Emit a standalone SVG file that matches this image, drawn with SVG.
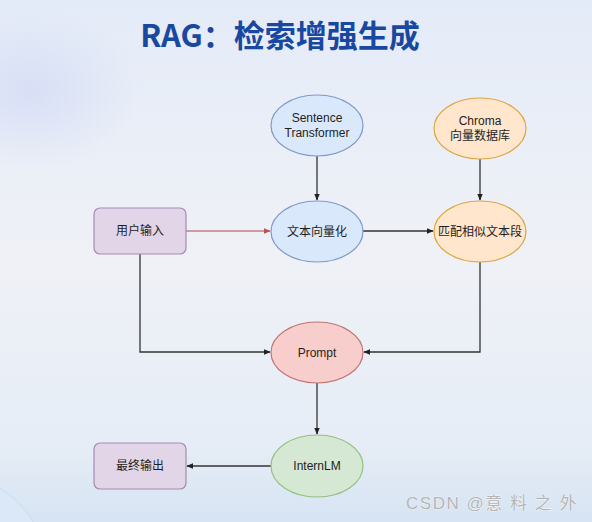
<svg xmlns="http://www.w3.org/2000/svg" width="592" height="522" viewBox="0 0 592 522">
<defs>
<linearGradient id="bg" x1="0" y1="0" x2="0" y2="1">
<stop offset="0" stop-color="#e4ebf8"/>
<stop offset="0.5" stop-color="#eff1f6"/>
<stop offset="0.85" stop-color="#e6edf6"/>
<stop offset="1" stop-color="#d6e4f3"/>
</linearGradient>
<radialGradient id="blob" cx="0.5" cy="0.5" r="0.5">
<stop offset="0" stop-color="#cdd6f5" stop-opacity="0.6"/>
<stop offset="1" stop-color="#cdd6f5" stop-opacity="0"/>
</radialGradient>
<marker id="ah" viewBox="0 0 10 10" refX="9" refY="5" markerWidth="7" markerHeight="7" markerUnits="userSpaceOnUse" orient="auto">
<path d="M0,1 L10,5 L0,9 Z" fill="#222"/>
</marker>
<marker id="ahr" viewBox="0 0 10 10" refX="9" refY="5" markerWidth="7" markerHeight="7" markerUnits="userSpaceOnUse" orient="auto">
<path d="M0,1 L10,5 L0,9 Z" fill="#b85450"/>
</marker>
</defs>
<style>
.t{font-family:"Liberation Sans","Noto Sans CJK SC",sans-serif;font-size:12px;fill:#1e1e1e;text-anchor:middle;dominant-baseline:central}
.blue{fill:#dae8fc;stroke:#7d9bc8;stroke-width:1.2}
.orange{fill:#ffe6cc;stroke:#dca640;stroke-width:1.2}
.red{fill:#f8cecc;stroke:#c07572;stroke-width:1.2}
.green{fill:#d5e8d4;stroke:#96c080;stroke-width:1.2}
.purple{fill:#e1d5e7;stroke:#a58bb3;stroke-width:1.2}
.c{fill:none;stroke:#333;stroke-width:1.3}
</style>
<rect width="592" height="522" fill="url(#bg)"/>
<ellipse cx="30" cy="90" rx="110" ry="80" fill="url(#blob)"/>
<circle cx="-60" cy="580" r="110" fill="#dbe8f7" stroke="#c4dcf2" stroke-width="1"/>
<text x="280" y="33" font-family="'Noto Sans CJK SC','Liberation Sans',sans-serif" font-size="31" font-weight="bold" fill="#1848a0" text-anchor="middle" dominant-baseline="central">RAG：检索增强生成</text>
<g id="connectors">
<line class="c" x1="317" y1="156" x2="317" y2="200" marker-end="url(#ah)"/>
<line class="c" x1="480" y1="159" x2="480" y2="200" marker-end="url(#ah)"/>
<line x1="186" y1="231" x2="270" y2="231" stroke="#c08080" stroke-width="1.3" fill="none" marker-end="url(#ahr)"/>
<line class="c" x1="363" y1="231" x2="433" y2="231" marker-end="url(#ah)"/>
<polyline class="c" points="140,254 140,352 270,352" marker-end="url(#ah)"/>
<polyline class="c" points="480,262 480,352 364,352" marker-end="url(#ah)"/>
<line class="c" x1="317" y1="383" x2="317" y2="434" marker-end="url(#ah)"/>
<line class="c" x1="271" y1="466" x2="187" y2="466" marker-end="url(#ah)"/>
</g>
<g id="sentence-transformer">
<ellipse class="blue" cx="317" cy="125.5" rx="46" ry="30.5"/>
<text class="t" x="317" y="118">Sentence</text>
<text class="t" x="317" y="133">Transformer</text>
</g>
<g id="chroma">
<ellipse class="orange" cx="480" cy="128.5" rx="46" ry="30.5"/>
<text class="t" x="480" y="121">Chroma</text>
<text class="t" x="480" y="136">向量数据库</text>
</g>
<g id="user-input">
<rect class="purple" x="94" y="208" width="92" height="46" rx="6"/>
<text class="t" x="140" y="231">用户输入</text>
</g>
<g id="vectorize">
<ellipse class="blue" cx="317" cy="231.5" rx="46" ry="30.5"/>
<text class="t" x="317" y="231.5">文本向量化</text>
</g>
<g id="match">
<ellipse class="orange" cx="480" cy="231.5" rx="46" ry="30.5"/>
<text class="t" x="480" y="231.5">匹配相似文本段</text>
</g>
<g id="prompt">
<ellipse class="red" cx="317" cy="352.5" rx="46" ry="30.5"/>
<text class="t" x="317" y="352.5">Prompt</text>
</g>
<g id="internlm">
<ellipse class="green" cx="317" cy="466" rx="46" ry="31"/>
<text class="t" x="317" y="466">InternLM</text>
</g>
<g id="final-output">
<rect class="purple" x="94" y="443" width="92" height="46" rx="6"/>
<text class="t" x="140" y="466">最终输出</text>
</g>
<text x="492" y="503" font-family="'Liberation Sans','Noto Sans CJK SC',sans-serif" font-size="17" fill="#b4b4b4" stroke="#ffffff" stroke-width="0.6" paint-order="stroke" text-anchor="middle" dominant-baseline="central" letter-spacing="1.5">CSDN @意 料 之 外</text>
</svg>
